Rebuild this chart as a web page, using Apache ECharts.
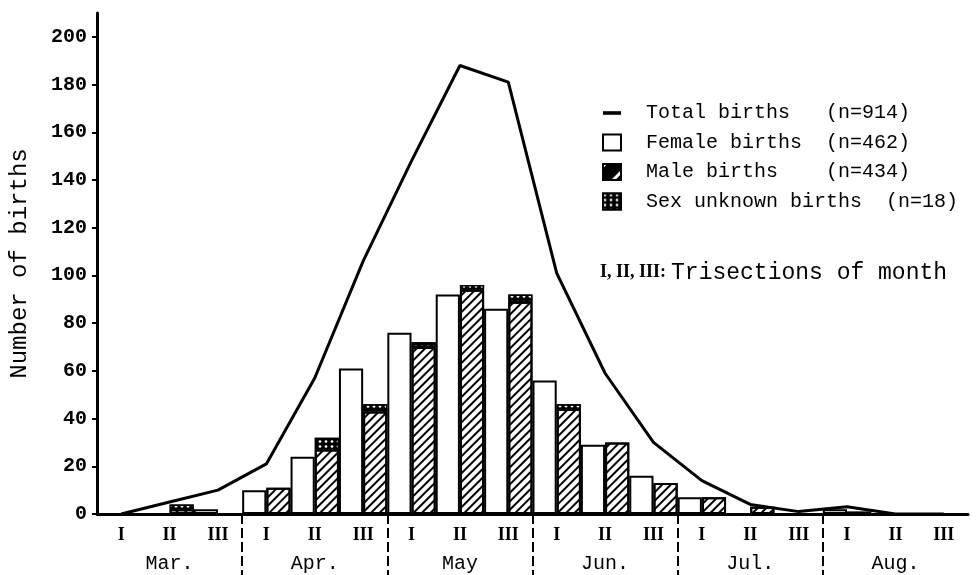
<!DOCTYPE html>
<html>
<head>
<meta charset="utf-8">
<script src="https://cdn.jsdelivr.net/npm/echarts@6/dist/echarts.min.js"></script>
<style>
html,body{margin:0;padding:0;background:#fff;}
#chart{width:979px;height:575px;}
</style>
</head>
<body>
<div id="chart"></div>
<script>
// ---- data ----
const trisections = ['I','II','III','I','II','III','I','II','III','I','II','III','I','II','III','I','II','III'];
const months = ['Mar.','Apr.','May','Jun.','Jul.','Aug.'];
const femaleBirths  = ['-', '-', 2, 10, 24, 61, 76, 92, 86, 56, 29, 16, 7, '-', '-', 2, '-', '-'];
const maleBirths    = ['-', 2, '-', 11, 27, 43, 70, 94, 89, 44, 30, 13, 7, 3, '-', 1, '-', '-'];
const unknownBirths = ['-', 2, '-', '-', 5, 3, 2, 2, 3, 2, '-', '-', '-', '-', '-', '-', '-', '-'];
const totalBirths   = [0, 5, 10, 21, 57, 106, 148, 188, 181, 101, 59, 30, 14, 4, 1, 3, 0, 0];
const yTicks = [0, 20, 40, 60, 80, 100, 120, 140, 160, 180, 200];
const legendNames  = ['Total births', 'Female births', 'Male births', 'Sex unknown births'];
const legendCounts = ['(n=914)', '(n=462)', '(n=434)', '(n=18)'];
const legendPad    = [3, 2, 4, 2];

// month separators sit between every third trisection
const monthBoundaries = months.slice(1).map(function (m, i) { return (i + 1) * 3; });

const MONO = 'Liberation Mono';
const SERIF = 'Liberation Serif';

const hatch = {
  symbol: 'rect', symbolSize: 1, color: '#000',
  dashArrayX: [1, 0], dashArrayY: [2, 4], rotation: -Math.PI / 4
};
const dots = {
  symbol: 'circle', symbolSize: 0.9, color: '#fff',
  dashArrayX: [4, 2], dashArrayY: [3, 2], rotation: 0
};

const chart = echarts.init(document.getElementById('chart'));
chart.setOption({
  animation: false,
  backgroundColor: '#fff',
  title: {
    text: '{s|I, II, III:} {m|Trisections of month}',
    left: 600, top: 261, padding: 0,
    textStyle: {
      fontWeight: 'normal',
      rich: {
        s: { fontFamily: SERIF, fontSize: 18, fontWeight: 'bold', color: '#000' },
        m: { fontFamily: MONO, fontSize: 23, fontWeight: 'normal', color: '#000' }
      }
    }
  },
  legend: {
    orient: 'vertical', left: 602, top: 103, padding: 0,
    itemGap: 9.5, itemWidth: 18, itemHeight: 16,
    data: [
      { name: legendNames[0], icon: 'path://M0,0H20V4H0Z', itemStyle: { color: '#000' } },
      { name: legendNames[1], icon: 'rect' },
      { name: legendNames[2], icon: 'rect',
        itemStyle: { color: '#000', borderColor: '#000',
          decal: { symbol: 'rect', symbolSize: 1, color: '#fff', dashArrayX: [1, 0], dashArrayY: [3, 14], rotation: -Math.PI / 4 } } },
      { name: legendNames[3], icon: 'rect' }
    ],
    formatter: function (name) {
      const i = legendNames.indexOf(name);
      return '{p| }' + name + ' '.repeat(legendPad[i]) + legendCounts[i];
    },
    textStyle: {
      fontFamily: MONO, fontSize: 20, color: '#000', lineHeight: 20,
      rich: { p: { width: 20, fontFamily: MONO, fontSize: 20, lineHeight: 20 } }
    }
  },
  grid: { left: 94, right: 11, top: 13, bottom: 61, containLabel: false },
  xAxis: [
    {
      type: 'category', data: trisections, boundaryGap: true, position: 'bottom',
      axisLine: { show: true, lineStyle: { color: '#000', width: 3 } },
      axisTick: { show: false },
      axisLabel: { interval: 0, margin: 12, fontFamily: SERIF, fontSize: 18, fontWeight: 'bold', color: '#000' },
      splitLine: { show: false }
    },
    {
      type: 'category', data: months, boundaryGap: true, position: 'bottom', offset: 0,
      axisLine: { show: false }, axisTick: { show: false },
      axisLabel: { interval: 0, margin: 40, fontFamily: MONO, fontSize: 20, color: '#000' },
      splitLine: { show: false }
    },
    {
      type: 'value', min: 0, max: trisections.length, position: 'bottom', offset: 0,
      axisLine: { show: false }, axisLabel: { show: false }, splitLine: { show: false },
      axisTick: {
        show: true, length: 62, customValues: monthBoundaries,
        lineStyle: { color: '#000', width: 2, type: [10, 4] }
      }
    }
  ],
  yAxis: {
    type: 'value', min: 0, max: 210,
    name: 'Number of births', nameLocation: 'middle', nameGap: 65,
    nameTextStyle: { fontFamily: MONO, fontSize: 24, color: '#000' },
    axisLine: { show: true, lineStyle: { color: '#000', width: 3 } },
    axisTick: { show: true, length: 5, lineStyle: { color: '#000', width: 2 }, customValues: yTicks },
    axisLabel: { margin: 10, fontFamily: MONO, fontSize: 20, fontWeight: 'bold', color: '#000', customValues: yTicks },
    splitLine: { show: false }
  },
  series: [
    {
      name: legendNames[1], type: 'bar', data: femaleBirths,
      barGap: '0%', barCategoryGap: '0%',
      itemStyle: { color: '#fff', borderColor: '#000', borderWidth: 2 },
      emphasis: { disabled: true }
    },
    {
      name: legendNames[2], type: 'bar', data: maleBirths, stack: 'm',
      barGap: '0%', barCategoryGap: '0%',
      itemStyle: { color: '#fff', borderColor: '#000', borderWidth: 2, decal: hatch },
      emphasis: { disabled: true }
    },
    {
      name: legendNames[3], type: 'bar', data: unknownBirths, stack: 'm',
      barGap: '0%', barCategoryGap: '0%',
      itemStyle: { color: '#000', borderColor: '#000', borderWidth: 1.5, decal: dots },
      emphasis: { disabled: true }
    },
    {
      name: legendNames[0], type: 'line', data: totalBirths, symbol: 'none', z: 5,
      lineStyle: { color: '#000', width: 3 }, itemStyle: { color: '#000' },
      emphasis: { disabled: true }
    }
  ]
});
</script>
</body>
</html>
